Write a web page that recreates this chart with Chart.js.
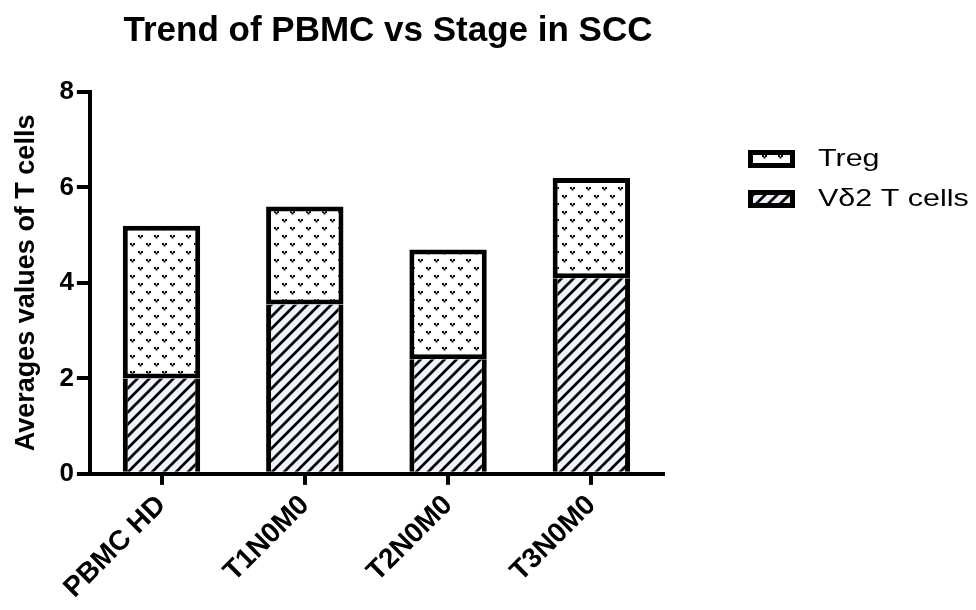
<!DOCTYPE html>
<html>
<head>
<meta charset="utf-8">
<script src="https://cdn.jsdelivr.net/npm/chart.js@4.4.1/dist/chart.umd.min.js"></script>
<style>
  html, body { margin: 0; padding: 0; background: #fff; }
  #wrap { width: 976px; height: 610px; }
</style>
</head>
<body>
<div id="wrap"><canvas id="bar_chart"></canvas></div>
<script>
var categories = ['PBMC HD', 'T1N0M0', 'T2N0M0', 'T3N0M0'];
var vd2Values = [2.0, 3.55, 2.4, 4.1];
var tregValues = [3.2, 2.05, 2.3, 2.1];
var yTicks = [0, 2, 4, 6, 8];

var FONT = '"Liberation Sans", Arial, sans-serif';

// hatch pattern for the Vd2 bars
function makeHatch() {
    var c = document.createElement('canvas');
    c.width = 12; c.height = 12;
    var g = c.getContext('2d');
    g.fillStyle = '#eef2fb';
    g.fillRect(0, 0, 12, 12);
    g.strokeStyle = '#000';
    g.lineWidth = 2.7;
    g.beginPath();
    g.moveTo(-2, 14); g.lineTo(14, -2);
    g.moveTo(-2, 2); g.lineTo(2, -2);
    g.moveTo(10, 14); g.lineTo(14, 10);
    g.stroke();
    return g.createPattern(c, 'repeat');
}

// little "v" dots for the Treg bars
function makeDots() {
    var c = document.createElement('canvas');
    c.width = 16; c.height = 16;
    var g = c.getContext('2d');
    g.fillStyle = '#fff';
    g.fillRect(0, 0, 16, 16);
    g.fillStyle = '#000';
    [[4, 4], [12, 12]].forEach(function(p) {
        g.fillRect(p[0] - 2, p[1] - 1, 2, 2);
        g.fillRect(p[0] + 1, p[1] - 1, 2, 2);
        g.fillRect(p[0] - 0.5, p[1] + 0.5, 2, 2);
    });
    return g.createPattern(c, 'repeat');
}

var hatch = makeHatch();
var dots = makeDots();

// title sits a bit right of the centre of the plot box
var titleShift = {
    id: 'titleShift',
    afterLayout: function(chart) {
        var tb = chart.titleBlock;
        var dx = 388 - (tb.left + tb.right) / 2;
        tb.left += dx;
        tb.right += dx;
    }
};

var legendPlugin = {
    id: 'sideLegend',
    afterDraw: function(chart) {
        var ctx = chart.ctx;
        var items = [
            { text: 'Treg', fill: dots, y: 150 },
            { text: 'V\u03b42 T cells', fill: hatch, y: 190 }
        ];
        ctx.save();
        items.forEach(function(it) {
            ctx.fillStyle = it.fill;
            ctx.fillRect(750, it.y + 2, 43, 13);
            ctx.lineWidth = 5;
            ctx.strokeStyle = '#000';
            ctx.strokeRect(750.5, it.y + 2.5, 42, 13);
            ctx.fillStyle = '#000';
            ctx.font = '24px ' + FONT;
            ctx.textBaseline = 'middle';
            ctx.save();
            ctx.translate(818, it.y + 9);
            ctx.scale(1.27, 1);
            ctx.fillText(it.text, 0, 0);
            ctx.restore();
        });
        ctx.restore();
    }
};

var chart = new Chart(document.getElementById('bar_chart'), {
    type: 'bar',
    data: {
        labels: categories,
        datasets: [{
            label: 'V\u03b42 T cells',
            data: vd2Values,
            backgroundColor: hatch,
            borderColor: '#000',
            borderWidth: { top: 0, bottom: 0, left: 5, right: 5 },
            borderSkipped: false,
            barPercentage: 0.54,
            categoryPercentage: 1
        }, {
            label: 'Treg',
            data: tregValues,
            backgroundColor: dots,
            borderColor: '#000',
            borderWidth: 5,
            borderSkipped: false,
            barPercentage: 0.54,
            categoryPercentage: 1
        }]
    },
    options: {
        responsive: true,
        maintainAspectRatio: false,
        animation: false,
        layout: { padding: { left: 10, right: 313, top: 0, bottom: 1 } },
        plugins: {
            legend: { display: false },
            tooltip: { enabled: false },
            title: {
                display: true,
                text: 'Trend of PBMC vs Stage in SCC',
                color: '#000',
                font: { family: FONT, size: 35, weight: 'bold' },
                padding: { top: 10, bottom: 40 }
            }
        },
        scales: {
            x: {
                stacked: true,
                offset: true,
                border: { display: true, color: '#000', width: 4 },
                grid: { display: true, drawOnChartArea: false, drawTicks: true, tickLength: 11, offset: false, color: '#000', lineWidth: 4 },
                ticks: {
                    color: '#000',
                    minRotation: 45,
                    maxRotation: 45,
                    padding: 4,
                    font: { family: FONT, size: 28, weight: 'bold' }
                }
            },
            y: {
                stacked: true,
                min: 0,
                max: 8,
                afterBuildTicks: function(axis) {
                    axis.ticks = yTicks.map(function(v) { return { value: v }; });
                },
                border: { display: true, color: '#000', width: 4 },
                grid: { display: true, drawOnChartArea: false, drawTicks: true, tickLength: 13, color: '#000', lineWidth: 4 },
                ticks: {
                    color: '#000',
                    padding: 3,
                    font: { family: FONT, size: 26, weight: 'bold' }
                },
                title: {
                    display: true,
                    text: 'Averages values of T cells',
                    color: '#000',
                    padding: { top: 0, bottom: 14 },
                    font: { family: FONT, size: 27, weight: 'bold' }
                }
            }
        }
    },
    plugins: [titleShift, legendPlugin]
});
</script>
</body>
</html>
